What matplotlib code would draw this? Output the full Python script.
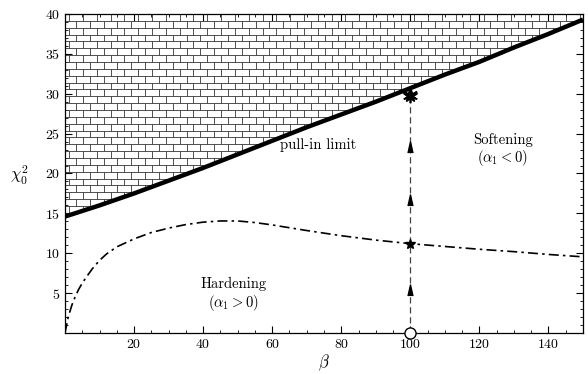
import numpy as np
import matplotlib
matplotlib.use("Agg")
import matplotlib.pyplot as plt
from matplotlib.collections import LineCollection
from matplotlib.patches import Polygon
from matplotlib.ticker import MultipleLocator

matplotlib.rcParams.update({
    'font.family': 'serif',
    'font.serif': ['cmr10', 'DejaVu Serif'],
    'mathtext.fontset': 'cm',
    'axes.formatter.use_mathtext': True,
    'font.size': 10,
})

# pull-in limit (upper boundary)
beta_pull = [0, 10, 20, 30, 40, 50, 60, 70, 80, 90, 100, 110, 120, 130, 140, 150]
chi_pull = [14.6, 16.0, 17.5, 19.1, 20.7, 22.4, 24.1, 25.8, 27.4, 29.0, 30.7, 32.4, 34.0, 35.8, 37.5, 39.3]

# hardening / softening transition curve
beta_tr = [0, 1, 2, 3, 4, 5, 6, 8, 10, 12, 15, 20, 25, 30, 35, 40, 45, 50, 55, 60,
           70, 80, 90, 100, 110, 120, 130, 140, 150]
chi_tr = [0, 2.1, 3.5, 4.6, 5.5, 6.25, 6.9, 8.1, 9.1, 9.9, 10.8, 11.8, 12.6, 13.15,
          13.6, 13.9, 14.05, 14.05, 13.85, 13.55, 12.85, 12.2, 11.65, 11.2, 10.85,
          10.5, 10.2, 9.85, 9.55]

# path at beta = 100
beta_path = 100
arrow_chi = [5.4, 16.7, 23.3]
cross_chi = 11.2
pullin_chi = 29.8

fig = plt.figure(figsize=(5.88, 3.74), dpi=100)
ax = fig.add_axes([0.1105, 0.1096, 0.881, 0.853])
ax.set_xlim(0, 150)
ax.set_ylim(0, 40)

# brick hatching above the pull-in limit
region = Polygon(list(zip(beta_pull, chi_pull)) + [(150, 40), (0, 40)],
                 closed=True, facecolor='none', edgecolor='none')
ax.add_patch(region)
row_h = 0.86
brick_w = 4.0
segs = []
y = 40.0
k = 0
while y > 14:
    segs.append([(0, y), (150, y)])
    off = 0 if k % 2 == 0 else brick_w / 2
    x = off + 1.2
    while x < 150:
        segs.append([(x, y), (x, y - row_h)])
        x += brick_w
    y -= row_h
    k += 1
bricks = LineCollection(segs, colors='#333333', linewidths=0.6)
ax.add_collection(bricks)
bricks.set_clip_path(region)

ax.plot(beta_pull, chi_pull, color='black', lw=3.2, solid_capstyle='butt')
ax.plot(beta_tr, chi_tr, color='black', lw=1.2, dashes=[6, 2.5, 1.5, 2.5])

ax.plot([beta_path, beta_path], [0, pullin_chi], color='#444444', lw=0.9, dashes=[5, 3])
tri = [(-0.45, -1), (0, 1), (0.45, -1)]
ax.plot([beta_path] * len(arrow_chi), arrow_chi, ls='none', marker=tri,
        ms=8, color='black')
ax.plot([beta_path], [cross_chi], ls='none', marker='*', ms=7, color='black')
ax.plot([beta_path], [pullin_chi], ls='none', marker='*', ms=11, color='black')
ax.plot([beta_path], [pullin_chi], ls='none', marker=(6, 2, 0), ms=11, mew=1.2, color='black')
ax.plot([beta_path], [0], ls='none', marker='o', ms=8, mfc='white', mec='black',
        mew=1.0, clip_on=False, zorder=5)

ax.text(73.4, 23.6, 'pull-in limit', ha='center', va='center', fontsize=10.5)
ax.text(126.7, 24.2, 'Softening', ha='center', va='center', fontsize=10.5)
ax.text(126.7, 21.9, r'$(\alpha_1 < 0)$', ha='center', va='center', fontsize=10.5)
ax.text(48.7, 6.1, 'Hardening', ha='center', va='center', fontsize=10.5)
ax.text(48.7, 3.8, r'$(\alpha_1 > 0)$', ha='center', va='center', fontsize=10.5)

ax.set_xlabel(r'$\beta$', fontsize=12, labelpad=1)
ax.set_ylabel(r'$\chi_0^2$', fontsize=12, rotation=0, va='center', ha='center')
ax.yaxis.set_label_coords(-0.087, 0.495)

ax.set_xticks([20, 40, 60, 80, 100, 120, 140])
ax.set_yticks([5, 10, 15, 20, 25, 30, 35, 40])
ax.xaxis.set_minor_locator(MultipleLocator(5))
ax.yaxis.set_minor_locator(MultipleLocator(1))
ax.tick_params(which='both', direction='in', top=True, right=True, labelsize=10)
ax.tick_params(which='major', length=5, width=0.8)
ax.tick_params(which='minor', length=2.5, width=0.6)
for s in ax.spines.values():
    s.set_linewidth(0.9)

fig.savefig('out.png', dpi=100)
